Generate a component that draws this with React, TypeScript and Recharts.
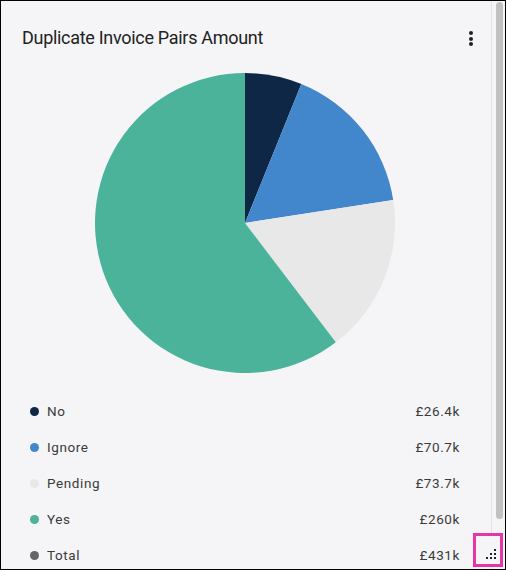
import React from "react";
import { PieChart, Pie, Cell } from "recharts";

const categories = ["No", "Ignore", "Pending", "Yes"];
const amounts = [26.4, 70.7, 73.7, 260];
const colors = ["#0f2747", "#4287cc", "#e8e8e8", "#4bb39a"];
const totalLabel = "Total";
const totalColor = "#666666";
const title = "Duplicate Invoice Pairs Amount";

const data = categories.map((name, i) => ({ name, value: amounts[i] }));
const total = amounts.reduce((a, b) => a + b, 0);

const fmt = (v: number) => "£" + (v >= 100 ? Math.round(v).toString() : v.toFixed(1)) + "k";

const FONT = "Roboto, 'Noto Sans', sans-serif";

export default function App() {
  const rows = [
    ...categories.map((c, i) => ({ name: c, color: colors[i], value: amounts[i] })),
    { name: totalLabel, color: totalColor, value: total },
  ];
  return (
    <div
      style={{
        position: "fixed",
        left: 0,
        top: 0,
        width: 506,
        height: 570,
        boxSizing: "border-box",
        border: "1px solid #000",
        background: "#f5f5f7",
        overflow: "hidden",
        fontFamily: FONT,
      }}
    >
      <div
        style={{
          position: "absolute",
          left: 21,
          top: 26,
          fontSize: 18,
          color: "#222",
          letterSpacing: -0.3,
          whiteSpace: "nowrap",
        }}
      >
        {title}
      </div>
      {/* kebab */}
      {[0, 1, 2].map((k) => (
        <div
          key={k}
          style={{
            position: "absolute",
            left: 467.5,
            top: 30 + k * 5.5,
            width: 4,
            height: 4,
            borderRadius: 2,
            background: "#222",
          }}
        />
      ))}
      <div style={{ position: "absolute", left: 93, top: 71 }}>
        <PieChart width={302} height={302} margin={{ top: 0, right: 0, bottom: 0, left: 0 }}>
          <Pie
            data={data}
            dataKey="value"
            nameKey="name"
            cx={151}
            cy={151}
            outerRadius={150}
            startAngle={90}
            endAngle={-270}
            stroke="none"
            isAnimationActive={false}
          >
            {data.map((d, i) => (
              <Cell key={d.name} fill={colors[i]} />
            ))}
          </Pie>
        </PieChart>
      </div>
      {rows.map((r, i) => (
        <div
          key={r.name}
          style={{
            position: "absolute",
            left: 29,
            top: 400 + i * 36,
            width: 430,
            height: 20,
            display: "flex",
            alignItems: "center",
            fontSize: 13.5,
            color: "#3a3a3a",
            letterSpacing: 0.6,
          }}
        >
          <div
            style={{
              width: 9,
              height: 9,
              borderRadius: 5,
              background: r.color,
              marginRight: 8,
              flex: "none",
            }}
          />
          <div style={{ flex: 1 }}>{r.name}</div>
          <div>{fmt(r.value)}</div>
        </div>
      ))}
      {/* scrollbar */}
      <div style={{ position: "absolute", left: 490, top: 0, width: 1, height: 570, background: "#e3e3e3" }} />
      <div
        style={{
          position: "absolute",
          left: 495,
          top: 1,
          width: 7,
          height: 517,
          borderRadius: 4,
          background: "#c1c1c1",
        }}
      />
      {/* resize handle */}
      <div
        style={{
          position: "absolute",
          left: 472,
          top: 532,
          width: 30,
          height: 34,
          boxSizing: "border-box",
          border: "3px solid #e535ab",
          background: "#f5f5f7",
        }}
      >
        {[
          [18, 13],
          [18, 17],
          [18, 21],
          [14, 17],
          [14, 21],
          [10, 21],
        ].map(([x, y], k) => (
          <div
            key={k}
            style={{ position: "absolute", left: x, top: y, width: 2, height: 2, background: "#222" }}
          />
        ))}
      </div>
    </div>
  );
}
